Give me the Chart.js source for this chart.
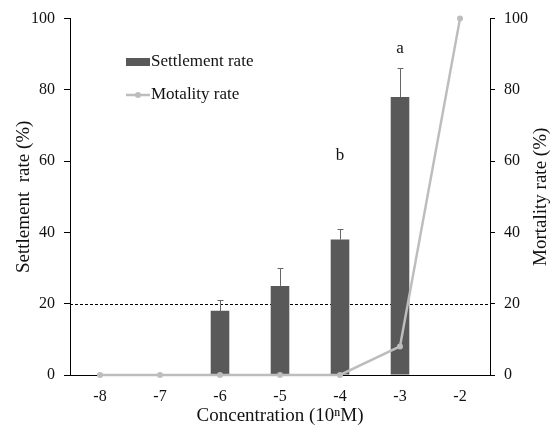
<!DOCTYPE html>
<html>
<head>
<meta charset="utf-8">
<script src="https://cdn.jsdelivr.net/npm/chart.js@4"></script>
<style>
html, body { margin: 0; padding: 0; background: #fff; }
#wrap { width: 558px; height: 429px; }
</style>
</head>
<body>
<div id="wrap"><canvas id="settlementChart"></canvas></div>
<script>
// Data
const concentrations = ['-8', '-7', '-6', '-5', '-4', '-3', '-2'];
const settlementRate = [null, null, 18, 25, 38, 78, null];
const settlementError = [null, null, 3, 5, 3, 8, null];
const mortalityRate = [0, 0, 0, 0, 0, 8, 100];
const significanceLetters = ['', '', '', '', 'b', 'a', ''];
const letterLevels = [null, null, null, null, 61, 91, null];
const thresholdLevel = 20;

const serif = '"Liberation Serif", "Times New Roman", serif';
const barColor = '#595959';
const lineColor = '#bdbdbd';
const textColor = '#111';

// dashed reference line at 20 %
const thresholdLine = {
    id: 'thresholdLine',
    beforeDatasetsDraw(chart) {
        const { ctx, chartArea, scales } = chart;
        const y = Math.round(scales.y.getPixelForValue(thresholdLevel)) + 0.5;
        ctx.save();
        ctx.strokeStyle = '#000';
        ctx.lineWidth = 1;
        ctx.setLineDash([3, 2]);
        ctx.beginPath();
        ctx.moveTo(chartArea.left, y);
        ctx.lineTo(chartArea.right, y);
        ctx.stroke();
        ctx.restore();
    }
};

// upper error whiskers and significance letters
const barExtras = {
    id: 'barExtras',
    afterDatasetsDraw(chart) {
        const { ctx, scales } = chart;
        const meta = chart.getDatasetMeta(0);
        ctx.save();
        ctx.strokeStyle = '#666';
        ctx.lineWidth = 1;
        settlementRate.forEach((v, i) => {
            if (v === null) return;
            const x = Math.round(meta.data[i].x) + 0.5;
            const yBar = scales.y.getPixelForValue(v);
            const yTop = Math.round(scales.y.getPixelForValue(v + settlementError[i])) + 0.5;
            ctx.beginPath();
            ctx.moveTo(x, yBar);
            ctx.lineTo(x, yTop);
            ctx.moveTo(x - 3, yTop);
            ctx.lineTo(x + 3, yTop);
            ctx.stroke();
        });
        ctx.fillStyle = textColor;
        ctx.font = '17px ' + serif;
        ctx.textAlign = 'center';
        ctx.textBaseline = 'middle';
        significanceLetters.forEach((t, i) => {
            if (!t) return;
            ctx.fillText(t, meta.data[i].x, scales.y.getPixelForValue(letterLevels[i]) - 2);
        });
        ctx.restore();
    }
};

// legend inside the plot area, and the right axis title read bottom-to-top
const insideLegend = {
    id: 'insideLegend',
    afterDraw(chart) {
        const { ctx, chartArea } = chart;
        const ds = chart.data.datasets;
        ctx.save();
        ctx.font = '17px ' + serif;
        ctx.textBaseline = 'middle';
        ctx.fillStyle = ds[0].backgroundColor;
        ctx.fillRect(126, 58, 24, 8);
        ctx.fillStyle = textColor;
        ctx.fillText(ds[0].label, 151, 62);
        ctx.strokeStyle = ds[1].borderColor;
        ctx.lineWidth = 2.5;
        ctx.beginPath();
        ctx.moveTo(126, 95);
        ctx.lineTo(150, 95);
        ctx.stroke();
        ctx.fillStyle = ds[1].borderColor;
        ctx.beginPath();
        ctx.arc(138, 95, 3, 0, Math.PI * 2);
        ctx.fill();
        ctx.fillStyle = textColor;
        ctx.fillText(ds[1].label, 151, 95);

        ctx.translate(541, (chartArea.top + chartArea.bottom) / 2);
        ctx.rotate(-Math.PI / 2);
        ctx.font = '19px ' + serif;
        ctx.textAlign = 'center';
        ctx.fillText('Mortality rate (%)', 0, 0);
        ctx.restore();
    }
};

const ctx = document.getElementById('settlementChart').getContext('2d');
const chart = new Chart(ctx, {
    type: 'bar',
    data: {
        labels: concentrations,
        datasets: [
            {
                type: 'bar',
                label: 'Settlement rate',
                data: settlementRate,
                backgroundColor: barColor,
                borderWidth: 0,
                barPercentage: 0.31,
                categoryPercentage: 1,
                yAxisID: 'y',
                order: 1
            },
            {
                type: 'line',
                label: 'Motality rate',
                data: mortalityRate,
                borderColor: lineColor,
                backgroundColor: lineColor,
                borderWidth: 2.5,
                pointRadius: 3,
                pointBackgroundColor: lineColor,
                pointBorderWidth: 0,
                tension: 0,
                clip: false,
                yAxisID: 'y2',
                order: 0
            }
        ]
    },
    options: {
        responsive: true,
        maintainAspectRatio: false,
        animation: false,
        layout: { padding: { top: 16 } },
        plugins: {
            legend: { display: false },
            tooltip: { enabled: false }
        },
        scales: {
            x: {
                offset: true,
                grid: { display: false },
                border: { display: true, color: '#000', width: 1 },
                ticks: { color: textColor, font: { family: serif, size: 16 }, padding: 4 },
                title: {
                    display: true,
                    text: 'Concentration (10\u207FM)',
                    color: textColor,
                    font: { family: serif, size: 19 },
                    padding: { top: 0, bottom: 2 }
                },
                afterFit(scale) { scale.height = 54; }
            },
            y: {
                position: 'left',
                min: 0,
                max: 100,
                ticks: { stepSize: 20, color: textColor, font: { family: serif, size: 16 }, padding: 9 },
                grid: { display: true, drawOnChartArea: false, drawTicks: true, tickLength: 6, color: '#000' },
                border: { display: true, color: '#000', width: 1 },
                title: {
                    display: true,
                    text: 'Settlement  rate (%)',
                    color: textColor,
                    font: { family: serif, size: 19 },
                    padding: { top: 13, bottom: 0 }
                },
                afterFit(scale) { scale.width = 70; }
            },
            y2: {
                position: 'right',
                min: 0,
                max: 100,
                ticks: { stepSize: 20, color: textColor, font: { family: serif, size: 16 }, padding: 9 },
                grid: { display: true, drawOnChartArea: false, drawTicks: true, tickLength: 5, color: '#000' },
                border: { display: true, color: '#000', width: 1 },
                afterFit(scale) { scale.width = 68; }
            }
        }
    },
    plugins: [thresholdLine, barExtras, insideLegend]
});
</script>
</body>
</html>
